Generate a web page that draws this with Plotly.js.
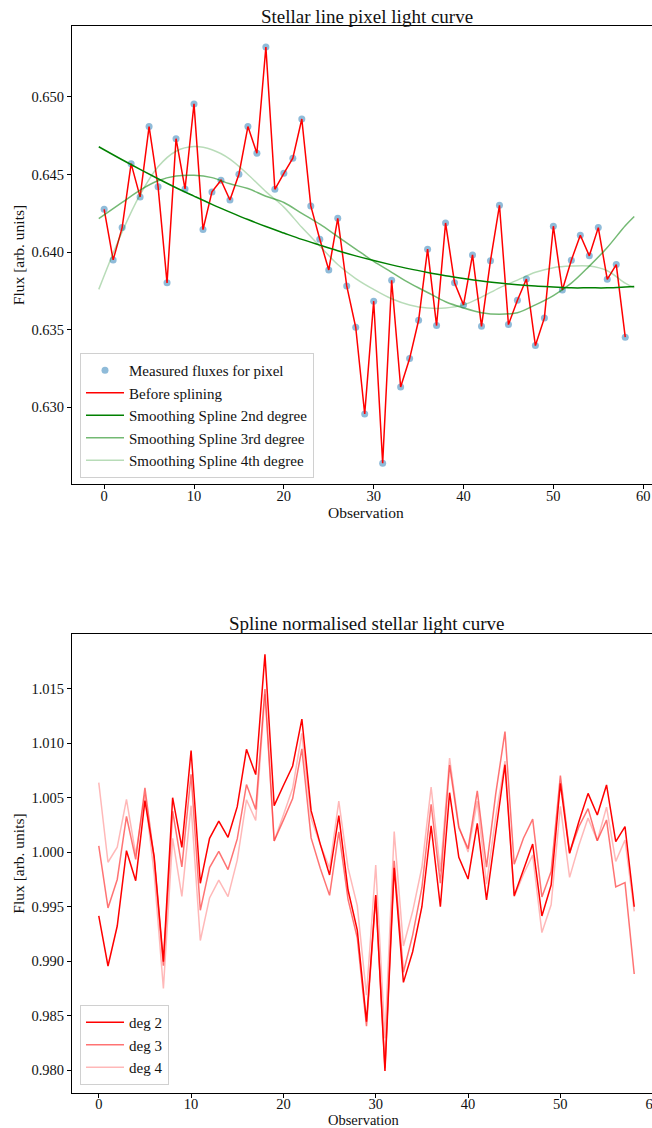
<!DOCTYPE html>
<html>
<head>
<meta charset="utf-8">
<script src="https://cdn.plot.ly/plotly-3.0.1.min.js"></script>
<style>
html,body{margin:0;padding:0;overflow:hidden;background:#fff;}
#chart{width:672px;height:1128px;}
</style>
</head>
<body>
<div id="chart"></div>
<script>
// ---------- data ----------
const obs = [0,1,2,3,4,5,6,7,8,9,10,11,12,13,14,15,16,17,18,19,20,21,22,23,24,25,26,27,28,29,30,31,32,33,34,35,36,37,38,39,40,41,42,43,44,45,46,47,48,49,50,51,52,53,54,55,56,57,58];

const rawFlux = [0.64276,0.6395,0.64158,0.6457,0.64356,0.64809,0.64422,0.63802,0.64731,0.64407,
  0.64955,0.64145,0.64388,0.64463,0.64336,0.64502,0.64809,0.64637,0.65322,0.64405,
  0.64508,0.64605,0.64858,0.64298,0.64083,0.63885,0.64218,0.63782,0.63516,0.62957,
  0.63684,0.6264,0.63819,0.63131,0.63314,0.63561,0.64019,0.63527,0.64188,0.63802,
  0.6366,0.63982,0.63522,0.63945,0.64302,0.63533,0.6369,0.63827,0.63398,0.63576,
  0.64167,0.63756,0.63948,0.64109,0.63976,0.64158,0.63825,0.6392,0.63452];

const splineX = [-0.6,2,4,6,8,10,12,14,16,18,20,22,24,26,28,30,32,34,36,38,40,42,44,46,48,50,52,54,56,58,59];
const spline2 = [0.64679,0.64595,0.64533,0.64473,0.64415,0.64361,0.64308,0.64258,0.6421,0.64165,
  0.64123,0.64082,0.64045,0.64009,0.63976,0.63946,0.63918,0.63892,0.63869,0.63848,
  0.6383,0.63814,0.63801,0.6379,0.63781,0.63775,0.6377,0.6377,0.6377,0.63775,0.63778];
const spline3 = [0.64216,0.6432,0.6440,0.6446,0.6449,0.64495,0.6448,0.6444,0.6441,0.6436,
  0.6432,0.6425,0.6418,0.6410,0.6402,0.6394,0.6387,0.6380,0.6374,0.6368,
  0.6364,0.6361,0.6360,0.6361,0.6366,0.6372,0.6380,0.6391,0.6403,0.6417,0.6423];
const spline4 = [0.6376,0.6413,0.6437,0.6455,0.6465,0.6468,0.6466,0.6460,0.6450,0.6439,
  0.6429,0.6416,0.6404,0.6392,0.6383,0.6376,0.6370,0.6366,0.6364,0.6364,
  0.6366,0.6371,0.6377,0.6382,0.6387,0.6390,0.6391,0.6391,0.6388,0.6380,0.6377];

const norm2 = [0.99413,0.98954,0.99321,1.00012,0.99737,1.00471,0.99957,0.98994,1.00498,1.00043,
  1.0093,0.99713,1.00125,1.00284,1.00135,1.00416,1.00942,1.0071,1.01813,1.00425,
  1.0061,1.00789,1.0122,1.00379,1.0007,0.99789,1.00333,0.99651,0.99284,0.98443,
  0.99606,0.97991,0.99856,0.98804,0.99085,0.99498,1.00241,0.99498,1.00544,0.99951,
  0.99752,1.00263,0.9956,1.00202,1.00801,0.99599,0.99835,1.00073,0.99413,0.99697,
  1.0063,0.99988,1.00278,1.00538,1.00339,1.00615,1.00095,1.00232,0.99498];
const norm3 = [1.00056,0.99487,0.99748,1.00326,0.99932,1.00588,0.99941,0.98956,1.00374,0.99864,
  1.00713,0.99465,0.99857,1.00005,0.99839,1.0012,1.00619,1.00391,1.01495,1.00101,
  1.00292,1.0049,1.00946,1.00129,0.99849,0.99602,1.00184,0.99566,0.99213,0.98401,
  0.996,0.98021,0.9992,0.98897,0.99238,0.99672,1.00438,0.99713,1.00798,1.00223,
  1.00031,1.00561,0.99862,1.00535,1.01104,0.99887,1.00126,1.00302,0.99588,0.99821,
  1.00702,0.99994,1.00232,1.00398,1.00103,1.00294,0.9968,0.99719,0.98881];
const norm4 = [1.00636,0.99906,1.00044,1.00482,0.99978,1.00526,0.99802,0.98749,1.00125,0.99593,
  1.00425,0.99188,0.99579,0.99742,0.99591,0.99926,1.00479,1.0029,1.01447,1.00101,
  1.00339,1.00584,1.01088,1.00309,1.00067,0.99852,1.00466,0.99854,0.99508,0.98686,
  0.99881,0.9829,1.00187,0.99138,0.99456,0.9986,1.00596,0.99822,1.00861,1.00239,
  1.0,1.00466,0.99705,1.00322,1.00834,0.99589,0.99796,0.99972,0.99261,0.99516,
  1.00418,0.99767,1.00059,1.00311,1.00103,1.00412,0.99914,1.0011,0.99455];

const xTicks = [0,10,20,30,40,50,60];
const topYTicks = [0.630,0.635,0.640,0.645,0.650];
const bottomYTicks = [0.980,0.985,0.990,0.995,1.000,1.005,1.010,1.015];

const topTitle = "Stellar line pixel light curve";
const bottomTitle = "Spline normalised stellar light curve";
const xLabel = "Observation";
const yLabel = "Flux [arb. units]";
const topNames = ["Measured fluxes for pixel","Before splining","Smoothing Spline 2nd degree","Smoothing Spline 3rd degree","Smoothing Spline 4th degree"];
const bottomNames = ["deg 2","deg 3","deg 4"];

// ---------- figure ----------
const FONT = "Liberation Serif, Times New Roman, serif";
const H = 1128;
const traces = [
  {x: obs, y: rawFlux, type:'scatter', mode:'markers', name: topNames[0],
   marker:{color:'rgba(31,119,180,0.5)', size:7}, xaxis:'x', yaxis:'y', legend:'legend'},
  {x: obs, y: rawFlux, type:'scatter', mode:'lines', name: topNames[1],
   line:{color:'#ff0000', width:1.5}, xaxis:'x', yaxis:'y', legend:'legend'},
  {x: splineX, y: spline2, type:'scatter', mode:'lines', name: topNames[2],
   line:{color:'#008000', width:1.5, shape:'spline'}, xaxis:'x', yaxis:'y', legend:'legend'},
  {x: splineX, y: spline3, type:'scatter', mode:'lines', name: topNames[3],
   line:{color:'rgba(0,128,0,0.55)', width:1.5, shape:'spline'}, xaxis:'x', yaxis:'y', legend:'legend'},
  {x: splineX, y: spline4, type:'scatter', mode:'lines', name: topNames[4],
   line:{color:'rgba(0,128,0,0.28)', width:1.5, shape:'spline'}, xaxis:'x', yaxis:'y', legend:'legend'},
  {x: obs, y: norm2, type:'scatter', mode:'lines', name: bottomNames[0],
   line:{color:'#ff0000', width:1.5}, xaxis:'x2', yaxis:'y2', legend:'legend2'},
  {x: obs, y: norm3, type:'scatter', mode:'lines', name: bottomNames[1],
   line:{color:'rgba(255,0,0,0.55)', width:1.5}, xaxis:'x2', yaxis:'y2', legend:'legend2'},
  {x: obs, y: norm4, type:'scatter', mode:'lines', name: bottomNames[2],
   line:{color:'rgba(255,0,0,0.28)', width:1.5}, xaxis:'x2', yaxis:'y2', legend:'legend2'}
];

const axisCommon = {
  showgrid:false, zeroline:false, showline:true, mirror:true,
  linecolor:'#000', linewidth:1, ticks:'outside', ticklen:4, tickwidth:1, tickcolor:'#000',
  tickfont:{family:FONT, size:14.5, color:'#111'}, automargin:false
};
const px2y = p => 1 - p / H;
const PW = 589;

const layout = {
  width: 672, height: H,
  margin:{l:72, r:11, t:0, b:0},
  paper_bgcolor:'#fff', plot_bgcolor:'#fff',
  font:{family:FONT, color:'#111'},
  showlegend:true,
  xaxis: Object.assign({}, axisCommon, {domain:[0,1], anchor:'y', range:[-3.58, 61.98],
    tickvals:xTicks, ticklabelstandoff:-5}),
  yaxis: Object.assign({}, axisCommon, {domain:[px2y(484), px2y(26)], anchor:'x', range:[0.62506, 0.65457],
    tickvals:topYTicks, tickformat:'.3f',
    title:{text:yLabel, font:{family:FONT, size:15.5, color:'#111'}, standoff:3}}),
  xaxis2: Object.assign({}, axisCommon, {domain:[0,1], anchor:'y2', range:[-2.9, 60.9],
    tickvals:xTicks, ticklabelstandoff:-6}),
  yaxis2: Object.assign({}, axisCommon, {domain:[px2y(1093), px2y(634)], anchor:'x2', range:[0.97789, 1.0200],
    tickvals:bottomYTicks, tickformat:'.3f',
    title:{text:yLabel, font:{family:FONT, size:15.5, color:'#111'}, standoff:3}}),
  legend:{x:(80-72)/PW, y:px2y(478), xanchor:'left', yanchor:'bottom', itemwidth:38,
    bgcolor:'rgba(255,255,255,0.85)', bordercolor:'#d0d0d0', borderwidth:1,
    font:{family:FONT, size:15, color:'#111'}},
  legend2:{x:(80-72)/PW, y:px2y(1085), xanchor:'left', yanchor:'bottom', itemwidth:38,
    bgcolor:'rgba(255,255,255,0.85)', bordercolor:'#d0d0d0', borderwidth:1,
    font:{family:FONT, size:15, color:'#111'}},
  annotations:[
    {text:topTitle, xref:'paper', yref:'paper', x:0.5, y:px2y(16), xanchor:'center', yanchor:'middle',
     showarrow:false, font:{family:FONT, size:19, color:'#111'}},
    {text:bottomTitle, xref:'paper', yref:'paper', x:0.5, y:px2y(623), xanchor:'center', yanchor:'middle',
     showarrow:false, font:{family:FONT, size:19, color:'#111'}},
    {text:xLabel, xref:'paper', yref:'paper', x:(366-72)/PW, y:px2y(512), xanchor:'center', yanchor:'middle',
     showarrow:false, font:{family:FONT, size:15.5, color:'#111'}},
    {text:xLabel, xref:'paper', yref:'paper', x:(364-72)/PW, y:px2y(1119.5), xanchor:'center', yanchor:'middle',
     showarrow:false, font:{family:FONT, size:14.5, color:'#111'}}
  ]
};

Plotly.newPlot('chart', traces, layout, {staticPlot:true, displayModeBar:false});
</script>
</body>
</html>
